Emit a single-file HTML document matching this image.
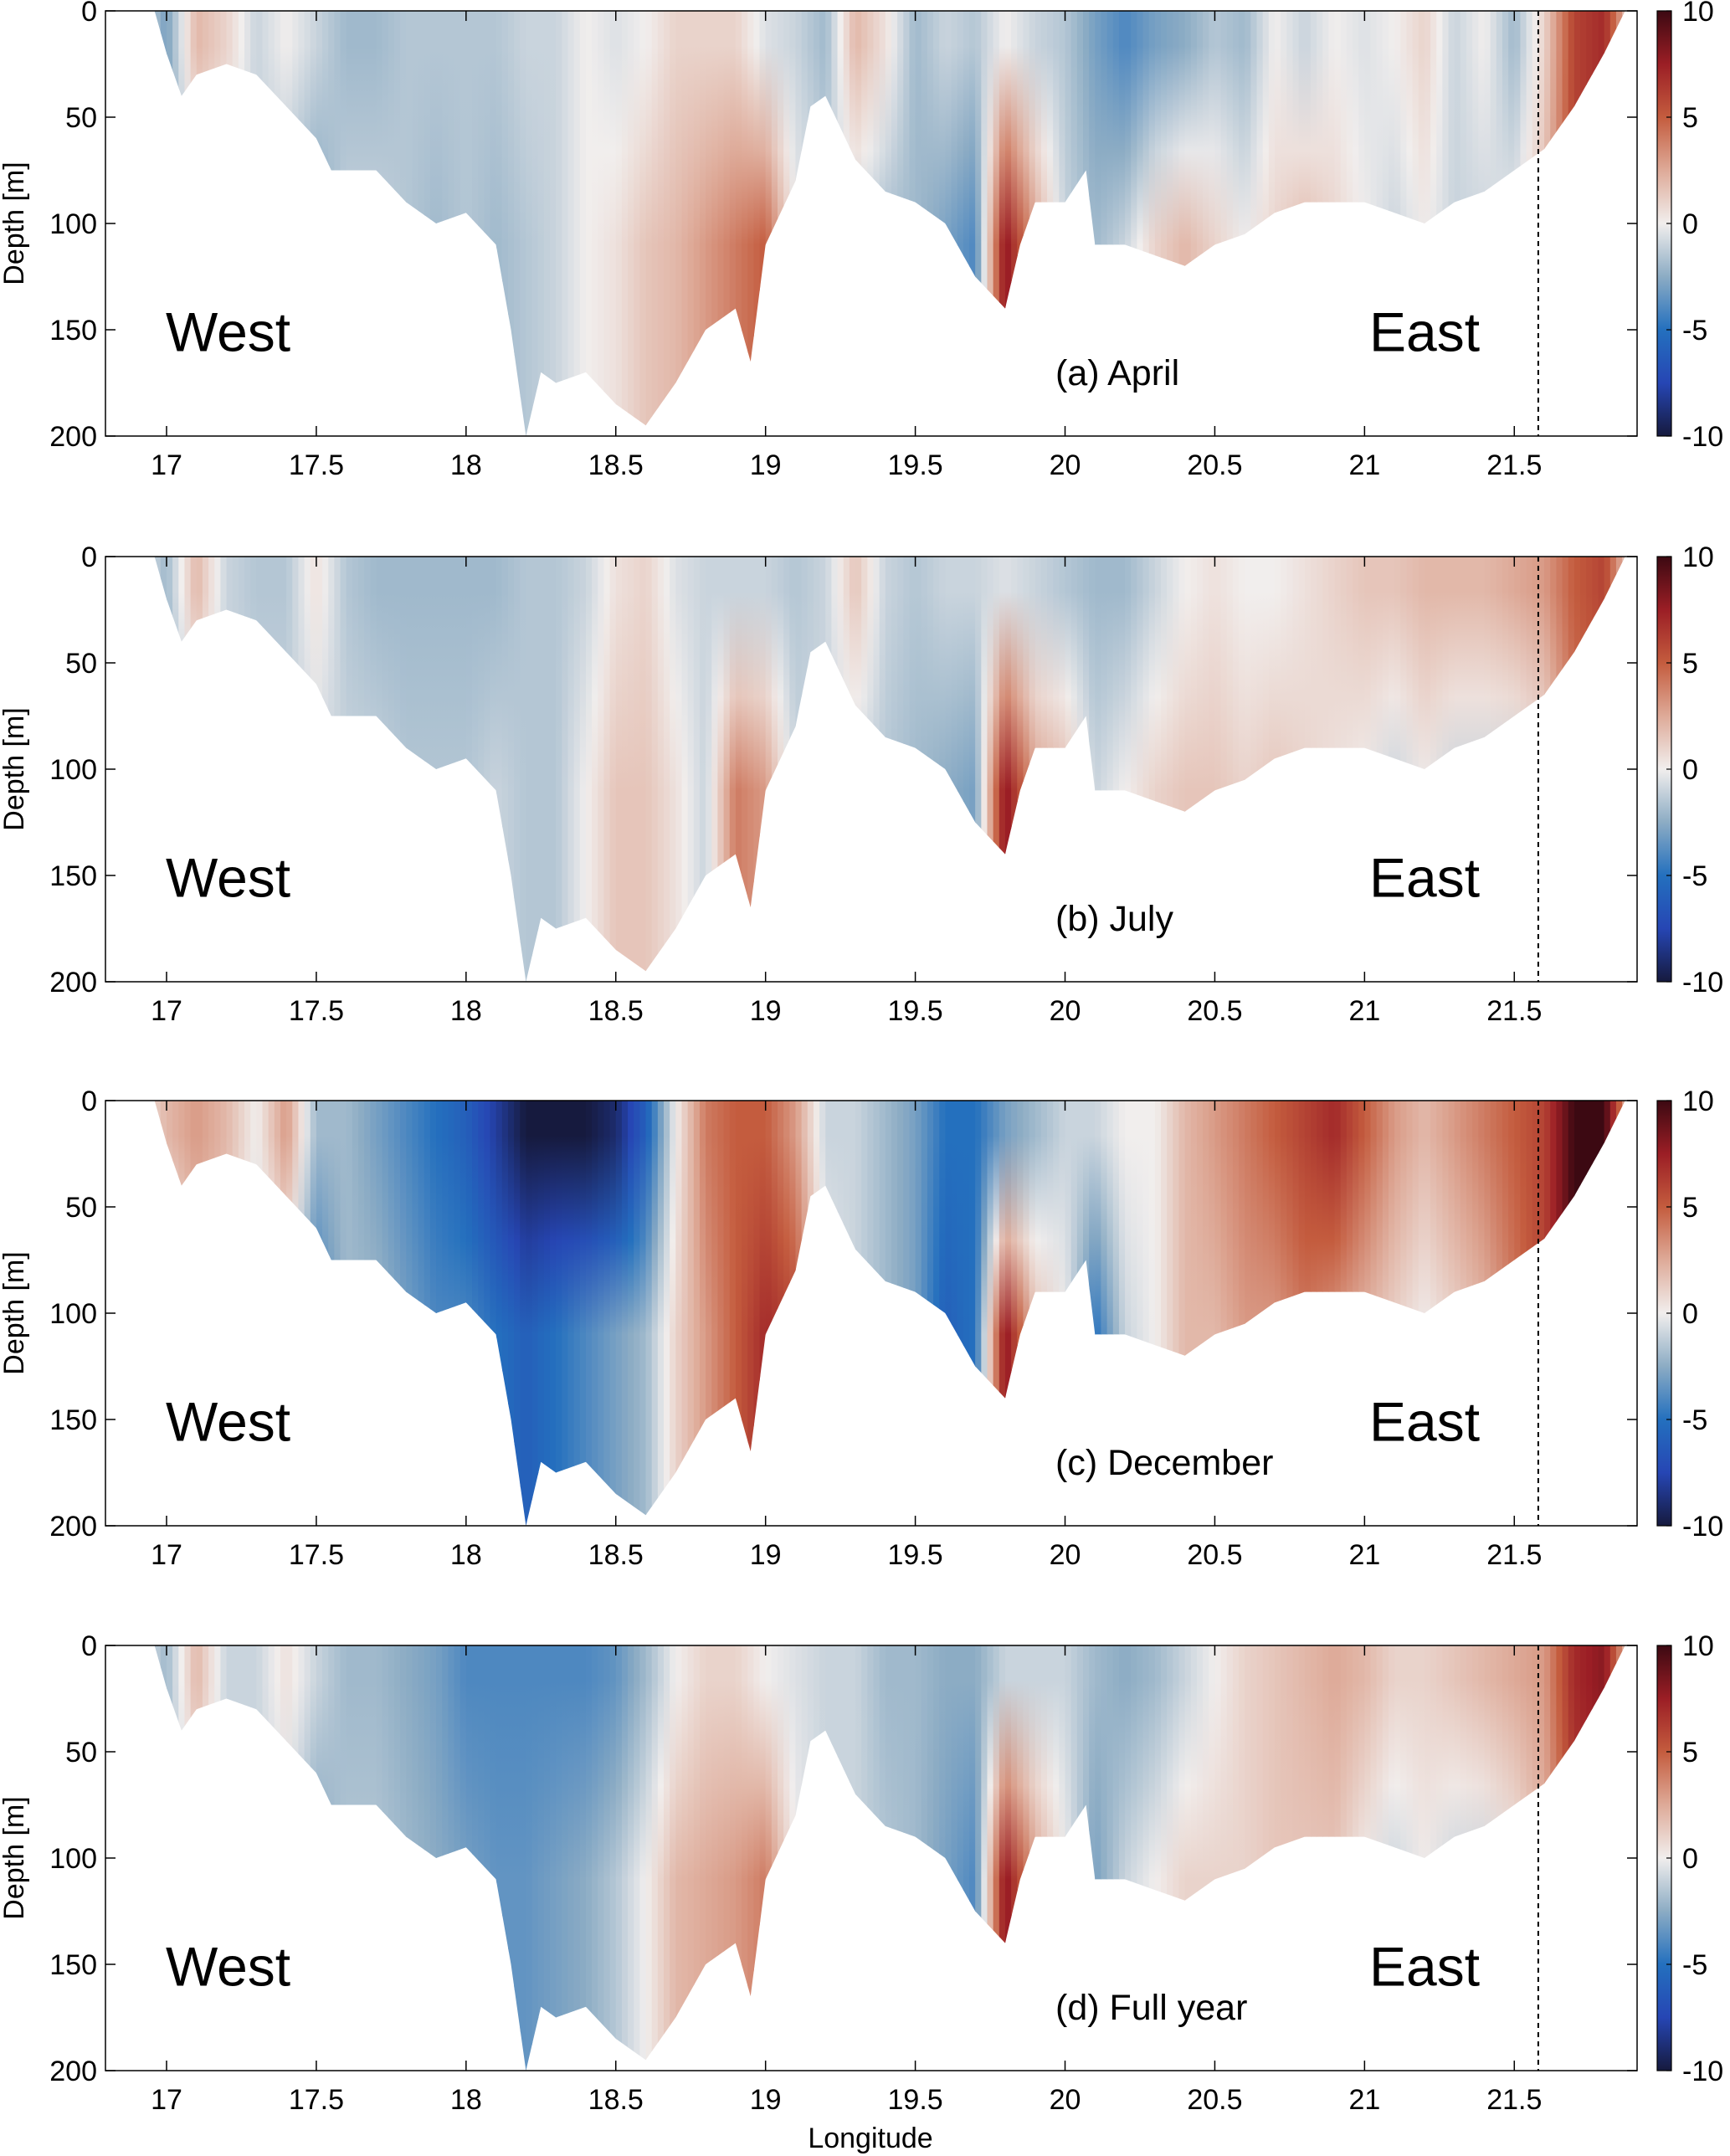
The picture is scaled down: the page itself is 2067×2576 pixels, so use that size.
<!DOCTYPE html>
<html><head><meta charset="utf-8">
<style>
body{margin:0;background:#fff;}
svg{display:block;font-family:"Liberation Sans",Arial,sans-serif;}
</style></head>
<body>
<svg id="chart" width="2067" height="2576" viewBox="0 0 2067 2576" xmlns="http://www.w3.org/2000/svg">
<defs id="defs"></defs>
</svg>
<script>
const lons = [16.9,17.0,17.1,17.2,17.3,17.4,17.5,17.6,17.7,17.8,17.9,18.0,18.1,18.2,18.3,18.4,18.5,18.6,18.7,18.8,18.9,19.0,19.1,19.2,19.3,19.4,19.5,19.6,19.7,19.8,19.9,20.0,20.1,20.2,20.3,20.4,20.5,20.6,20.7,20.8,20.9,21.0,21.1,21.2,21.3,21.4,21.5,21.6,21.7,21.8,21.9];
const bathyLon = [16.96,17.0,17.05,17.1,17.2,17.3,17.4,17.5,17.55,17.7,17.8,17.9,18.0,18.1,18.15,18.2,18.25,18.3,18.4,18.5,18.6,18.7,18.8,18.9,18.95,19.0,19.1,19.15,19.2,19.3,19.4,19.5,19.6,19.7,19.8,19.85,19.9,20.0,20.07,20.1,20.2,20.3,20.4,20.5,20.6,20.7,20.8,20.9,21.0,21.1,21.2,21.3,21.4,21.5,21.6,21.7,21.8,21.87];
const bathyDepth = [0,20,40,30,25,30,45,60,75,75,90,100,95,110,150,200,170,175,170,185,195,175,150,140,165,110,80,45,40,70,85,90,100,125,140,110,90,90,75,110,110,115,120,110,105,95,90,90,90,95,100,90,85,75,65,45,20,0];
const titles = ["(a) April","(b) July","(c) December","(d) Full year"];
const surfA = [0,-3,2,1,-1,0,-1,-2,-2,-1.5,-1.5,-1.5,-1.5,-1,-1,0,-0.5,0,1,1,1,-0.5,-1,-2,2,0.5,-2,-1,-1.5,0,-1,-1.5,-3,-4,-3,-2.5,-1.5,-2,0,-1,0,-0.5,0,1,-1,0,-2,1,6,7,0];
const deepA = [0,-3,-1,-1,-1,-2,-3,-1,-1,-1.5,-2,-1.5,-2,-1.5,-1,0,0.5,1.5,2,3,4,5,0,-1,-1,-2,-2,-3,-4,8,3,-1,-2,-1,1,2,1,0,1,2,1,0,-1,0,-1,-1,0,2,6,7,0];
const surfB = [0,-2,2,-1,-1.5,-1.5,0.5,-1.5,-2,-2,-2,-2,-2,-1.5,-1.5,-1,0.5,1,-0.5,-1,-1,-1,-1.5,-1,1.5,-1,-1.5,-1,-1,-0.5,-1,-1.5,-2,-2,-1,0,0.5,0,0,0.5,1,1.5,1.5,2,2,2,2.5,3,5,6,0];
const deepB = [0,-3,-1,-1,-1,-1,-1,-1,-1,-1.5,-1.5,-1.5,-1,-1.5,-1.5,0,1.5,1.5,0.5,-1,4,3,-1,-1,-1,-1.5,-2,-2.5,-3,8,3,2,-1,0,1,1.5,1.5,1,1.5,1,0.5,0,-1,0,-1,-1,-1,0,4,5,0];
const surfC = [0,2,3,2,0,3,-2,-2,-3,-4,-5,-6,-8,-10,-10,-10,-9,-6,0,4,5,5,3,-1,-1,-2,-3,-5,-5,-3,-2,-1,-1,0,0,2,3,4,5,6,7,5,3,2,3,4,5,6,10,10,0];
const deepC = [0,-2,1,1,-1,-1,-5,-2,-2,-3,-4,-4,-5,-6,-5,-4,-3,-2,1,3,5,7,6,0,-1,-2,-3,-6,-5,8,2,0,-5,-1,0,2,2,3,3,4,3,2,1,0,1,2,4,6,10,10,0];
const surfD = [0,-2,2,-1,-1,0.5,-1,-2,-2,-2.5,-3,-4,-4,-4,-4,-4,-3.5,-2,0,1,1,0,-0.5,-1,-1,-2,-2,-2.5,-2.5,-1,-1,-1,-2,-2.5,-2,-1,0,1,1.5,2,2.5,2,1,1,1.5,2,2.5,3,7,8,0];
const deepD = [0,-2,0,-1,-1,-1,-3,-1.5,-1.5,-2,-2.5,-3,-3.5,-3.5,-3,-2.5,-1.5,0,2,2.5,3,4,0,-1,-1,-1.5,-2,-3,-4,8,3,0,-3,-1,0,1,1,1,1.5,1.5,1.5,0,-1,0,-1,-1,0,2,6,7,0];
const surfs=[surfA,surfB,surfC,surfD], deeps=[deepA,deepB,deepC,deepD];
const xTicks=[17,17.5,18,18.5,19,19.5,20,20.5,21,21.5];
const yTicks=[0,50,100,150,200];
const cbTicks=[10,5,0,-5,-10];

const NS="http://www.w3.org/2000/svg";
const svg=document.getElementById('chart');
const defs=document.getElementById('defs');
const L=126,R=1956,X0=16.796,X1=21.91;
const tops=[13,665,1315,1966],H=508;
function sx(v){return L+(v-X0)/(X1-X0)*(R-L);}
function el(t,a,p){const e=document.createElementNS(NS,t);for(const k in a)e.setAttribute(k,a[k]);(p||svg).appendChild(e);return e;}
const stops=[[-10,[22,26,62]],[-7.5,[38,70,180]],[-5,[36,112,190]],[-2.5,[140,172,196]],[0,[241,238,237]],[2.5,[222,170,152]],[5,[196,92,62]],[7.5,[155,30,37]],[10,[60,9,18]]];
function cmap(v){v=Math.max(-10,Math.min(10,v));for(let i=0;i<stops.length-1;i++){const a=stops[i],b=stops[i+1];if(v<=b[0]){const t=(v-a[0])/(b[0]-a[0]);const c=a[1].map((x,j)=>Math.round(x+(b[1][j]-x)*t));return `rgb(${c[0]},${c[1]},${c[2]})`;}}return 'rgb(60,9,18)';}
function interp(xs,ys,x){if(x<=xs[0])return ys[0];for(let i=0;i<xs.length-1;i++){if(x<=xs[i+1]){const t=(x-xs[i])/(xs[i+1]-xs[i]);return ys[i]+(ys[i+1]-ys[i])*t;}}return ys[ys.length-1];}

for(let p=0;p<4;p++){
  const T=tops[p];
  const sy=d=>T+d/200*H;
  const g=el('g',{});
  
  
  const cp=el('clipPath',{id:'clip'+p},defs);
  let pts=bathyLon.map((x,i)=>sx(x)+','+sy(bathyDepth[i])).join(' ');
  el('polygon',{points:pts},cp);
  const field=el('g',{'clip-path':'url(#clip'+p+')'},g);
  
  
  const step=0.02;
  for(let x=16.9;x<21.9;x+=step){
    const s=interp(lons,surfs[p],x+step/2), d=interp(lons,deeps[p],x+step/2);
    const gid='g'+p+'_'+Math.round(x*100);
    const lg=el('linearGradient',{id:gid,gradientUnits:'userSpaceOnUse',x1:0,y1:sy(0),x2:0,y2:sy(110)},defs);
    el('stop',{offset:'0.15','stop-color':cmap(s)},lg);
    el('stop',{offset:'0.6','stop-color':cmap((s+d)/2)},lg);
    el('stop',{offset:'1','stop-color':cmap(d)},lg);
    const r=el('rect',{x:sx(x),y:sy(0),width:sx(x+step)-sx(x)+0.8,height:H,fill:'url(#'+gid+')'},field);
    
    
  }
  const dl=el('line',{x1:sx(21.58),x2:sx(21.58),y1:T,y2:T+H,stroke:'#000','stroke-width':2,'stroke-dasharray':'6,5'},g);
  
  const bx=el('rect',{x:L,y:T,width:R-L,height:H,fill:'none',stroke:'#000','stroke-width':1.5},g);
  
  xTicks.forEach(v=>{
    el('line',{x1:sx(v),x2:sx(v),y1:T+H,y2:T+H-12,stroke:'#000','stroke-width':1.5},g);
    el('line',{x1:sx(v),x2:sx(v),y1:T,y2:T+12,stroke:'#000','stroke-width':1.5},g);
    const t=el('text',{x:sx(v),y:T+H+46,'font-size':34,'text-anchor':'middle'},g);t.textContent=v;
    
  });
  yTicks.forEach(v=>{
    el('line',{x1:L,x2:L+12,y1:sy(v),y2:sy(v),stroke:'#000','stroke-width':1.5},g);
    el('line',{x1:R,x2:R-12,y1:sy(v),y2:sy(v),stroke:'#000','stroke-width':1.5},g);
    const t=el('text',{x:116,y:sy(v)+12,'font-size':34,'text-anchor':'end'},g);t.textContent=v;
    
  });
  const yt=el('text',{transform:`translate(28,${T+H/2}) rotate(-90)`,'font-size':34,'text-anchor':'middle'},g);yt.textContent='Depth [m]';
  
  const w=el('text',{x:198,y:T+H*0.8,'font-size':66},g);w.textContent='West';
  
  const e=el('text',{x:1636,y:T+H*0.8,'font-size':66},g);e.textContent='East';
  
  const pt=el('text',{x:1261,y:T+H*0.88,'font-size':43},g);pt.textContent=titles[p];
  
  const cg=el('linearGradient',{id:'cb'+p,x1:0,y1:1,x2:0,y2:0},defs);
  stops.forEach(s=>el('stop',{offset:(s[0]+10)/20,'stop-color':cmap(s[0])},cg));
  const cb=el('rect',{x:1980,y:T,width:17,height:H,fill:'url(#cb'+p+')',stroke:'#000','stroke-width':1.2},g);
  
  cbTicks.forEach(v=>{
    const y=T+(10-v)/20*H;
    el('line',{x1:1997,x2:1991,y1:y,y2:y,stroke:'#000','stroke-width':1.2},g);
    const t=el('text',{x:2010,y:y+12,'font-size':34},g);t.textContent=v;
    
  });
}
const xl=el('text',{x:1040,y:2566,'font-size':34,'text-anchor':'middle'});xl.textContent='Longitude';


</script>
</body></html>
